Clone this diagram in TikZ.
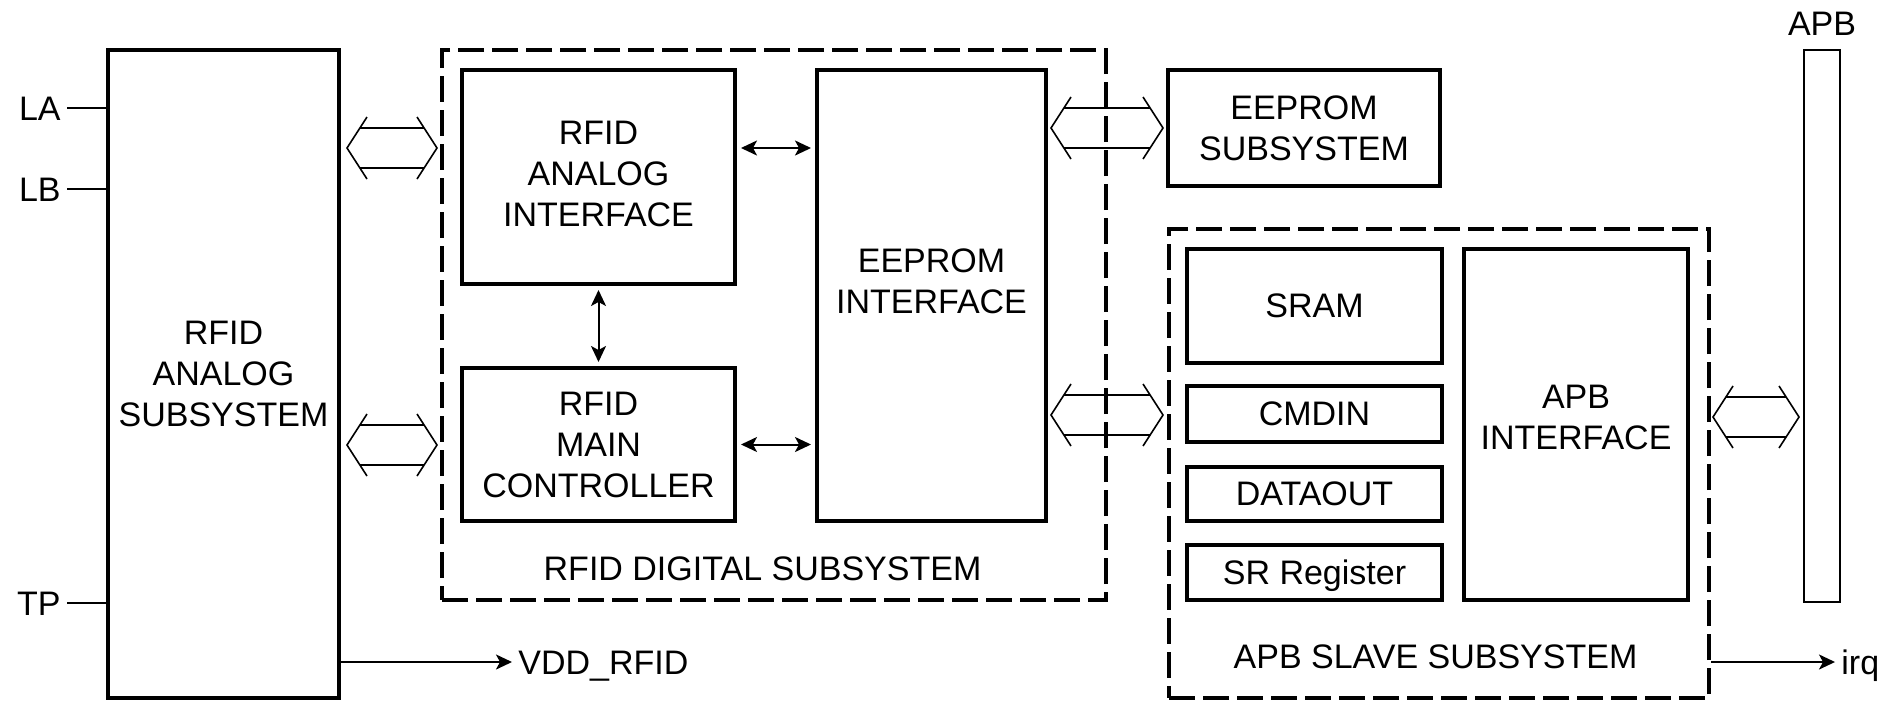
\documentclass[tikz,border=0pt]{standalone}
\usepackage{fontspec}
\setmainfont{Liberation Sans}
\usetikzlibrary{arrows.meta,calc}
\tikzset{
  blk/.style={draw, line width=2pt, inner sep=0pt, align=center, text depth=0pt},
  grp/.style={draw, line width=2pt, dash pattern=on 13pt off 4pt, inner sep=0pt},
  txt/.style={inner sep=0pt, align=center, text depth=0pt},
  pin/.style={inner sep=3pt, text height=12.2pt, text depth=0pt},
  wire/.style={line width=1pt},
  sig/.style={line width=1pt, -{Stealth[length=8pt,width=7.5pt,inset=2pt]}},
  dsig/.style={line width=1pt, {Stealth[length=8pt,width=7.5pt,inset=2pt]}-{Stealth[length=8pt,width=7.5pt,inset=2pt]}, shorten <=2pt, shorten >=2pt},
  bus/.style={line width=0.8pt},
}
\newcommand{\busarrow}[2]{%
  \draw[bus] let \p1=#1, \p2=#2 in
    (\x1+10pt,\y1+15.5pt) -- (\x1,\y1) -- (\x1+10pt,\y1-15.5pt)
    (\x2-10pt,\y2+15.5pt) -- (\x2,\y2) -- (\x2-10pt,\y2-15.5pt)
    (\x1+6.45pt,\y1+10pt) -- (\x2-6.45pt,\y2+10pt)
    (\x1+6.45pt,\y1-10pt) -- (\x2-6.45pt,\y2-10pt);}
\begin{document}
\begin{tikzpicture}[x=0.5pt,y=-0.5pt,font=\fontsize{17}{20.5}\selectfont]
\useasboundingbox (0,0) rectangle (1888,702);
% analog subsystem
\node[blk, minimum width=115.5pt, minimum height=324pt] (ana) at (223.5,374) {RFID\\ANALOG\\SUBSYSTEM};
% digital subsystem
\node[grp, minimum width=332pt, minimum height=275pt] (dig) at (774,325) {};
\node[blk, minimum width=136.5pt, minimum height=107pt] (aif) at (598.5,177) {};
\node[txt] (aiflbl) at (598.5,173.5) {RFID\\ANALOG\\INTERFACE};
\node[blk, minimum width=136.5pt, minimum height=76.5pt] (mc) at (598.5,444.5) {RFID\\MAIN\\CONTROLLER};
\node[blk, minimum width=114.5pt, minimum height=225.5pt] (eif) at (931.5,295.5) {};
\node[txt] (eiflbl) at (931.5,281.5) {EEPROM\\INTERFACE};
\node[txt] (diglbl) at (762.5,569) {RFID DIGITAL SUBSYSTEM};
% eeprom subsystem
\node[blk, minimum width=136pt, minimum height=58pt] (esub) at (1304,128) {EEPROM\\SUBSYSTEM};
% apb slave
\node[grp, minimum width=270pt, minimum height=234.5pt] (slave) at (1439,463.5) {};
\node[blk, minimum width=127.5pt, minimum height=57pt] (sram) at (1314.5,306) {SRAM};
\node[blk, minimum width=127.5pt, minimum height=28pt] (cmdin) at (1314.5,414) {CMDIN};
\node[blk, minimum width=127.5pt, minimum height=27pt] (dout) at (1314.5,494) {DATAOUT};
\node[blk, minimum width=127.5pt, minimum height=27.5pt] (srreg) at (1314.5,572.5) {SR Register};
\node[blk, minimum width=112pt, minimum height=175.5pt] (apbif) at (1576,424.5) {};
\node[txt] (apbiflbl) at (1576,417) {APB\\INTERFACE};
\node[txt] (slavelbl) at (1435.5,657) {APB SLAVE SUBSYSTEM};
% APB bus bar
\node[draw, line width=1pt, inner sep=0pt, minimum width=18pt, minimum height=276pt] (bar) at (1822,326) {};
\node[txt] (barlbl) at (1822,23.5) {APB};
% pins
\node[pin, anchor=east] (la) at (67,108) {LA};
\node[pin, anchor=east] (lb) at (67,189) {LB};
\node[pin, anchor=east] (tp) at (67,603) {TP};
\draw[wire] (la.east) -- (ana.west |- la.east);
\draw[wire] (lb.east) -- (ana.west |- lb.east);
\draw[wire] (tp.east) -- (ana.west |- tp.east);
\node[pin, anchor=west] (vdd) at (512,662) {VDD\_RFID};
\draw[sig] (ana.east |- vdd.west) -- (vdd.west);
\node[pin, anchor=west] (irq) at (1835,662) {irq};
\draw[sig] (slave.east |- irq.west) -- (irq.west);
% internal arrows
\draw[dsig] (aif.east |- 0,148) -- (eif.west |- 0,148);
\draw[dsig] (aif.south) -- (mc.north);
\draw[dsig] (mc.east) -- (eif.west |- mc.east);
% buses
\busarrow{($(ana.east |- 0,148)+(6,0)$)}{($(dig.west |- 0,148)+(-3,0)$)}
\busarrow{($(ana.east |- 0,445)+(6,0)$)}{($(dig.west |- 0,445)+(-3,0)$)}
\busarrow{($(eif.east |- 0,128)+(3,0)$)}{($(esub.west |- 0,128)+(-3,0)$)}
\busarrow{($(eif.east |- 0,415)+(3,0)$)}{($(slave.west |- 0,415)+(-4,0)$)}
\busarrow{($(slave.east |- 0,417)+(2,0)$)}{($(bar.west |- 0,417)+(-4,0)$)}
\end{tikzpicture}
\end{document}
